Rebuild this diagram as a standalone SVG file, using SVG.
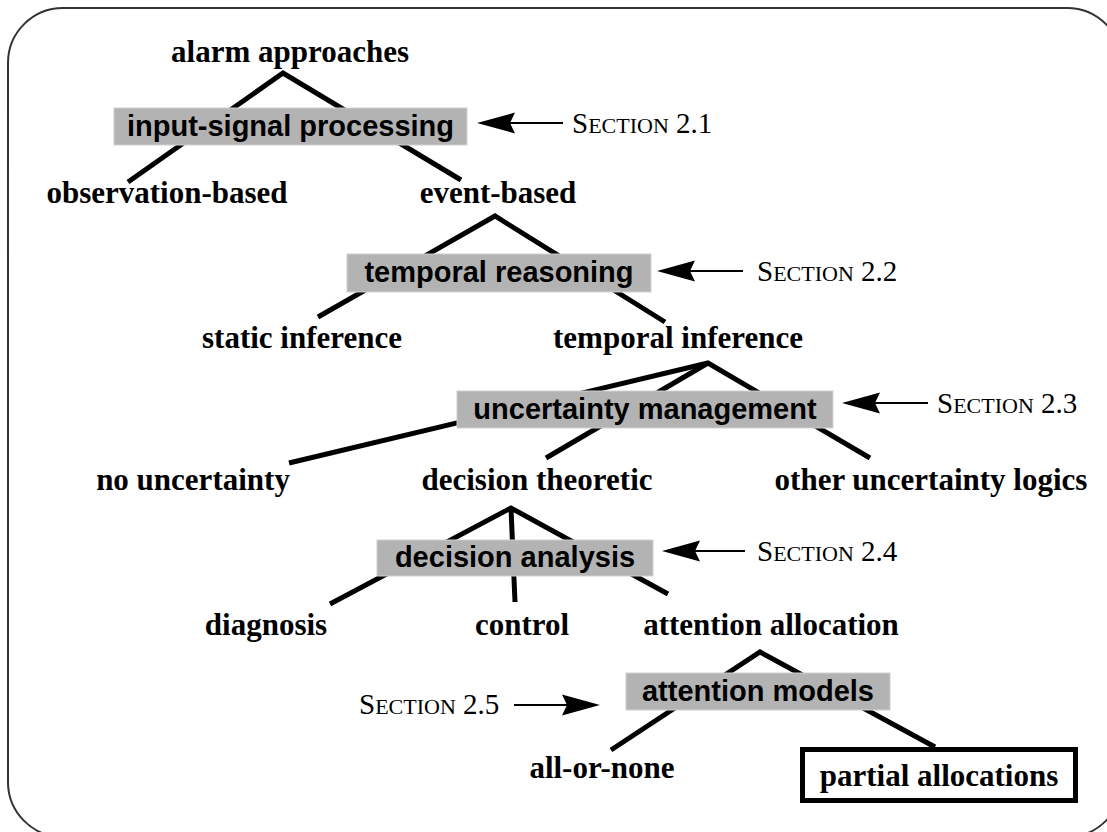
<svg xmlns="http://www.w3.org/2000/svg" width="1107" height="832" viewBox="0 0 1107 832">
<style>
.node{font-family:"Liberation Serif","Times New Roman",serif;font-weight:bold;font-size:31px;fill:#000;text-anchor:middle}
.box rect{fill:#b3b3b3;stroke:#d0d0d0;stroke-width:1}
.box text{font-family:"Liberation Sans",Arial,sans-serif;font-weight:bold;font-size:29px;fill:#000;text-anchor:middle}
.sec{font-family:"Liberation Serif","Times New Roman",serif;font-size:29px;fill:#000}
.sc{font-size:22px}
.edge{stroke:#000;stroke-width:5;fill:none}
.arr{stroke:#000;stroke-width:2;fill:none}
.head{fill:#000}
</style>
<defs>
<path id="ah" d="M0,0 L38,-10.5 L33,0 L38,10.5 Z"/>
</defs>
<rect x="8" y="8" width="1114" height="829" rx="55" ry="55" fill="#fff" stroke="#333" stroke-width="2"/>

<g id="connectors">
  <polyline class="edge" points="128,182 283,73 461,180"/>
  <polyline class="edge" points="318,317 495,216 665,322"/>
  <polyline class="edge" points="289,463 708,363 870,458"/>
  <line class="edge" x1="708" y1="363" x2="546" y2="458"/>
  <polyline class="edge" points="330,604 511,508 668,594"/>
  <line class="edge" x1="511" y1="508" x2="515" y2="602"/>
  <polyline class="edge" points="611,750 760,652 935,747"/>
  <line class="arr" x1="510" y1="123" x2="563" y2="123"/>
  <use href="#ah" class="head" x="477" y="123"/>
  <line class="arr" x1="690" y1="271" x2="743" y2="271"/>
  <use href="#ah" class="head" x="657" y="271"/>
  <line class="arr" x1="875" y1="403" x2="928" y2="403"/>
  <use href="#ah" class="head" x="842" y="403"/>
  <line class="arr" x1="695" y1="551" x2="745" y2="551"/>
  <use href="#ah" class="head" x="662" y="551"/>
  <line class="arr" x1="514" y1="705" x2="567" y2="705"/>
  <use href="#ah" class="head" transform="translate(600,705) scale(-1,1)"/>
</g>

<g id="alarm-approaches"><text class="node" x="290" y="62">alarm approaches</text></g>
<g id="input-signal-processing" class="box"><rect x="114" y="108" width="353" height="37"/><text x="290.5" y="136">input-signal processing</text></g>
<g id="section-2-1"><text class="sec" x="572" y="133">S<tspan class="sc">ECTION</tspan> 2.1</text></g>
<g id="observation-based"><text class="node" x="167" y="203">observation-based</text></g>
<g id="event-based"><text class="node" x="498" y="203">event-based</text></g>

<g id="temporal-reasoning" class="box"><rect x="347" y="254" width="304" height="38"/><text x="499" y="282">temporal reasoning</text></g>
<g id="section-2-2"><text class="sec" x="757" y="281">S<tspan class="sc">ECTION</tspan> 2.2</text></g>
<g id="static-inference"><text class="node" x="302" y="348">static inference</text></g>
<g id="temporal-inference"><text class="node" x="678" y="348">temporal inference</text></g>

<g id="uncertainty-management" class="box"><rect x="457" y="391" width="376" height="37"/><text x="645" y="419">uncertainty management</text></g>
<g id="section-2-3"><text class="sec" x="937" y="413">S<tspan class="sc">ECTION</tspan> 2.3</text></g>
<g id="no-uncertainty"><text class="node" x="193" y="490">no uncertainty</text></g>
<g id="decision-theoretic"><text class="node" x="537" y="490">decision theoretic</text></g>
<g id="other-uncertainty-logics"><text class="node" x="931" y="490">other uncertainty logics</text></g>

<g id="decision-analysis" class="box"><rect x="377" y="540" width="276" height="36"/><text x="515" y="567">decision analysis</text></g>
<g id="section-2-4"><text class="sec" x="757" y="561">S<tspan class="sc">ECTION</tspan> 2.4</text></g>
<g id="diagnosis"><text class="node" x="266" y="635">diagnosis</text></g>
<g id="control"><text class="node" x="522" y="635">control</text></g>
<g id="attention-allocation"><text class="node" x="771" y="635">attention allocation</text></g>

<g id="attention-models" class="box"><rect x="626" y="673" width="264" height="37"/><text x="758" y="701">attention models</text></g>
<g id="section-2-5"><text class="sec" x="359" y="714">S<tspan class="sc">ECTION</tspan> 2.5</text></g>
<g id="all-or-none"><text class="node" x="602" y="778">all-or-none</text></g>
<g id="partial-allocations"><rect x="802.5" y="749.5" width="273" height="51" fill="#fff" stroke="#000" stroke-width="5"/><text class="node" x="939" y="786">partial allocations</text></g>
</svg>
